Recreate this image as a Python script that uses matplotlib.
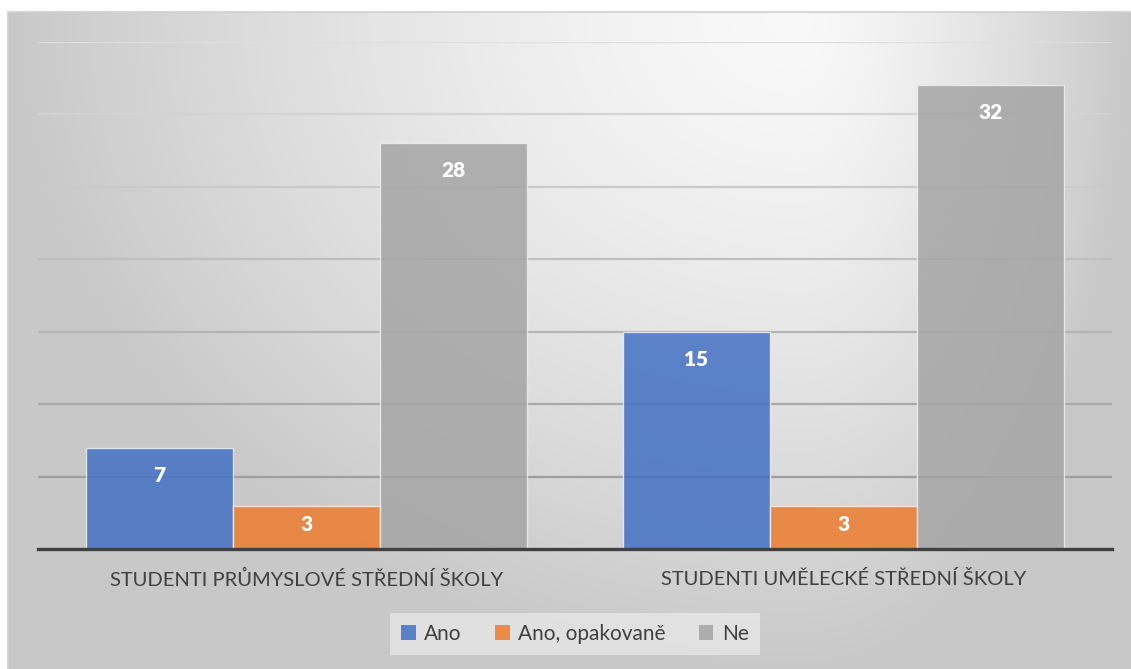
import numpy as np
import matplotlib.pyplot as plt
from matplotlib.patches import Patch

plt.rcParams['font.family'] = ['Lato', 'DejaVu Sans']

# data
categories = ['STUDENTI PRŮMYSLOVÉ STŘEDNÍ ŠKOLY', 'STUDENTI UMĚLECKÉ STŘEDNÍ ŠKOLY']
series_names = ['Ano', 'Ano, opakovaně', 'Ne']
ano = [7, 15]
ano_opak = [3, 3]
ne = [28, 32]
series_colors = ['#4472C4', '#ED7D31', '#A5A5A5']

W, H = 1131, 669
fig = plt.figure(figsize=(W / 100, H / 100), dpi=100)
fig.patch.set_facecolor('white')

# chart area with the grey path gradient
bg = fig.add_axes([8 / W, 0, 1 - 8 / W, (H - 12) / H])
yy, xx = np.mgrid[0:657, 0:1123].astype(float)
cx, cy = 790.0, 0.0
u = np.where(xx < cx, (cx - xx) / cx, (xx - cx) / (1123 - cx))
w = (yy - cy) / 657
t = np.clip(np.sqrt(u ** 2 + w ** 2), 0, 1) ** 1.4
val = 0.975 - 0.19 * t
bg.imshow(np.dstack([val, val, val]), aspect='auto', interpolation='bilinear')
bg.set_xticks([])
bg.set_yticks([])
for side in ['right', 'bottom']:
    bg.spines[side].set_visible(False)
for side in ['top', 'left']:
    bg.spines[side].set_color('#d0d0d0')
    bg.spines[side].set_linewidth(1.2)
bg.set_zorder(0)

ax = fig.add_axes([38 / W, (H - 549) / H, (1112 - 38) / W, (549 - 42) / H])
ax.set_zorder(1)
ax.patch.set_alpha(0)
ax.set_xlim(-0.5, 1.5)
ax.set_ylim(0, 35)
for s in ax.spines.values():
    s.set_visible(False)
ax.set_yticks([])

# gridlines get darker toward the bottom
levels = np.arange(5, 36, 5)
for lv in levels:
    f = lv / 35.0
    g = 0.58 + 0.29 * f
    ax.axhline(lv, color=(g, g, g), lw=1.6, zorder=1)
ax.axhline(0, color='#404040', lw=2.4, zorder=4, clip_on=False)

bw = 0.274
x = np.arange(len(categories))
all_vals = [ano, ano_opak, ne]
px_per_unit = (549 - 42) / 35.0
for i, (vals, col, name) in enumerate(zip(all_vals, series_colors, series_names)):
    bars = ax.bar(x + (i - 1) * bw, vals, bw, color=col, alpha=0.86,
                  edgecolor='#eeeeee', linewidth=1, zorder=2, label=name)
    for b, v in zip(bars, vals):
        off = min(27.5, 0.44 * v * px_per_unit) * 0.72
        ax.annotate(str(v), (b.get_x() + b.get_width() / 2, v),
                    xytext=(0, -off), textcoords='offset points',
                    ha='center', va='center', color='white',
                    fontsize=15, fontweight='heavy', zorder=5)

ax.set_xticks(x)
ax.set_xticklabels(categories, fontsize=14.5, color='#404040')
ax.tick_params(axis='x', length=0, pad=15)

handles = [Patch(facecolor=c, alpha=0.86, edgecolor='none') for c in series_colors]
leg = fig.legend(handles, series_names, loc='center', bbox_to_anchor=(575 / W, 1 - 634 / H),
                 ncol=3, fontsize=15, frameon=True, fancybox=False,
                 handlelength=0.7, handleheight=0.7, handletextpad=0.4,
                 columnspacing=1.6, borderpad=0.55, labelcolor='#404040')
leg.get_frame().set_facecolor('#ebebeb')
leg.get_frame().set_alpha(0.7)
leg.get_frame().set_edgecolor('none')

fig.savefig('out.png', dpi=100)
